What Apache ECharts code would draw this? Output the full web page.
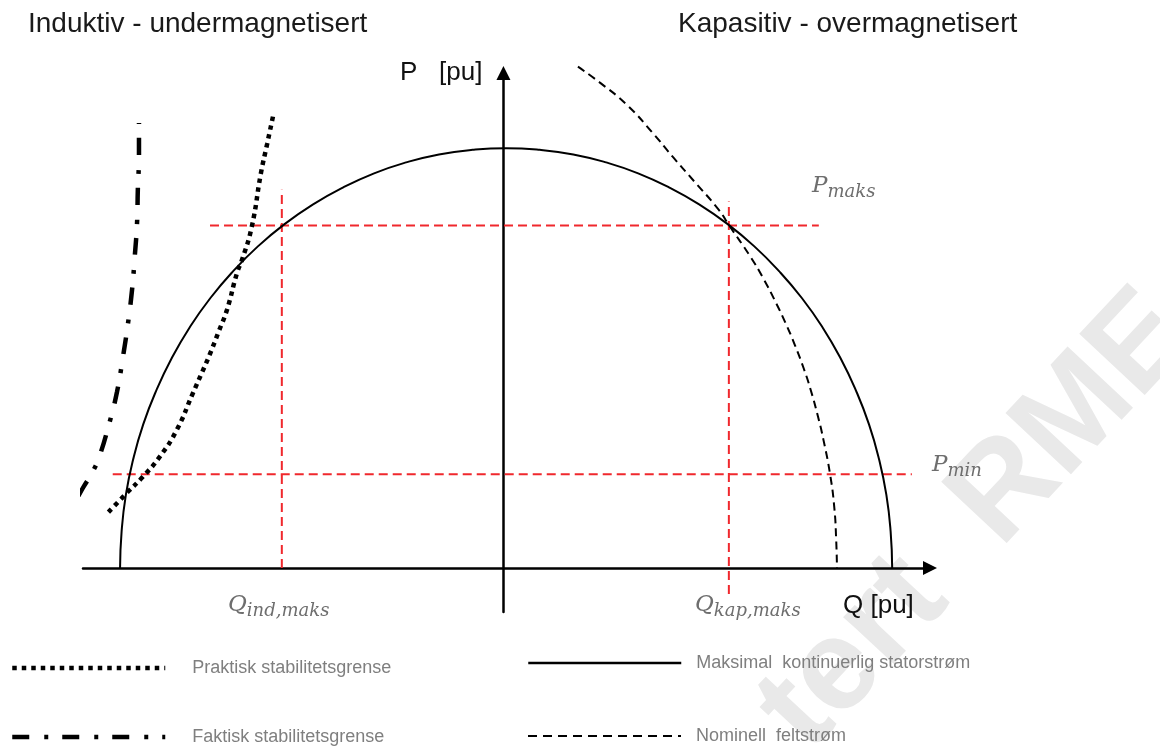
<!DOCTYPE html>
<html>
<head>
<meta charset="utf-8">
<title>Kapabilitetsdiagram</title>
<script src="https://cdn.jsdelivr.net/npm/echarts@6/dist/echarts.min.js"></script>
<style>
  html, body { margin: 0; padding: 0; background: #fff; }
  #chart { width: 1160px; height: 749px; }
</style>
</head>
<body>
<div id="chart"></div>
<script>
// Q (x) og P (y) i pu, lest av figuren
const statorQ = [-0.993, -0.989, -0.978, -0.959, -0.933, -0.899, -0.859, -0.812, -0.759, -0.700, -0.636, -0.567,
  -0.493, -0.416, -0.335, -0.252, -0.167, -0.080, 0.007, 0.094, 0.181, 0.266, 0.349, 0.430, 0.507, 0.581, 0.650,
  0.714, 0.773, 0.826, 0.873, 0.913, 0.947, 0.973, 0.992, 1.003, 1.007];
const statorP = [0, 0.087, 0.174, 0.259, 0.342, 0.423, 0.500, 0.574, 0.643, 0.707, 0.766, 0.819,
  0.866, 0.906, 0.940, 0.966, 0.985, 0.996, 1.000, 0.996, 0.985, 0.966, 0.940, 0.906, 0.866, 0.819, 0.766,
  0.707, 0.643, 0.574, 0.500, 0.423, 0.342, 0.259, 0.174, 0.087, 0];

const feltQ = [0.193, 0.250, 0.320, 0.387, 0.439, 0.495, 0.558, 0.584, 0.640, 0.673, 0.702, 0.730, 0.755, 0.778,
  0.796, 0.815, 0.829, 0.846, 0.857, 0.862, 0.864];
const feltP = [1.194, 1.156, 1.103, 1.036, 0.979, 0.920, 0.853, 0.817, 0.741, 0.690, 0.639, 0.585, 0.531, 0.475,
  0.424, 0.360, 0.305, 0.224, 0.145, 0.067, 0];

const praktiskQ = [-0.597, -0.612, -0.628, -0.652, -0.677, -0.690, -0.716, -0.738, -0.760, -0.782, -0.804, -0.846,
  -0.890, -0.934, -0.975, -1.025];
const praktiskP = [1.075, 1.010, 0.941, 0.812, 0.734, 0.703, 0.615, 0.562, 0.510, 0.463, 0.417, 0.329,
  0.265, 0.217, 0.179, 0.131];

const faktiskQ = [-0.944, -0.944, -0.947, -0.949, -0.955, -0.962, -0.973, -0.986, -1.001, -1.022, -1.048, -1.066, -1.089, -1.110];
const faktiskP = [1.060, 0.984, 0.901, 0.822, 0.741, 0.662, 0.579, 0.500, 0.419, 0.341, 0.262, 0.226, 0.191, 0.155];

// røde hjelpelinjer
const pMaks = 0.816;
const pMin = 0.223;
const qIndMaks = -0.574;
const qKapMaks = 0.584;
const pMaksSpan = [-0.760, 0.817];
const pMinSpan = [-1.012, 1.058];
const qIndSpan = [0, 0.901];
const qKapSpan = [-0.062, 0.873];

const pairs = (xs, ys) => xs.map((x, i) => [x, ys[i]]);

const names = {
  praktisk: 'Praktisk stabilitetsgrense',
  faktisk: 'Faktisk stabilitetsgrense',
  stator: 'Maksimal  kontinuerlig statorstrøm',
  felt: 'Nominell  feltstrøm'
};

const red = { color: '#f0282d', width: 2, type: [9, 5] };
const sans = 'Liberation Sans, Arial, sans-serif';
const mathRich = (sub) => ({
  text: `{m|${sub[0]}}{s|${sub[1]}}`,
  rich: {
    m: { fontFamily: 'DejaVu Serif', fontStyle: 'italic', fontSize: 23, lineHeight: 30, fill: '#6e6e6e', verticalAlign: 'middle' },
    s: { fontFamily: 'DejaVu Serif', fontStyle: 'italic', fontSize: 18, lineHeight: 15, fill: '#6e6e6e', verticalAlign: 'bottom' }
  }
});

const legendBase = (pad) => ({
  selectedMode: false,
  orient: 'horizontal',
  padding: 0,
  itemWidth: 153,
  itemHeight: 14,
  itemStyle: { opacity: 0 },
  textStyle: { fontFamily: sans, fontSize: 18, color: '#7f7f7f', padding: [0, 0, 0, pad] }
});

const chart = echarts.init(document.getElementById('chart'), null, { renderer: 'canvas' });
chart.setOption({
  animation: false,
  backgroundColor: '#fff',
  title: [
    { text: 'Induktiv - undermagnetisert', left: 28, top: 10, padding: 0,
      textStyle: { fontFamily: sans, fontSize: 28, fontWeight: 'normal', color: '#1a1a1a' } },
    { text: 'Kapasitiv - overmagnetisert', left: 678, top: 10, padding: 0,
      textStyle: { fontFamily: sans, fontSize: 28, fontWeight: 'normal', color: '#1a1a1a' } }
  ],
  legend: [
    { ...legendBase(22), left: 10, top: 659,
      data: [{ name: names.praktisk, lineStyle: { color: '#000', width: 4.5, type: [4.5, 5] } }] },
    { ...legendBase(22), left: 10, top: 728,
      data: [{ name: names.faktisk, lineStyle: { color: '#000', width: 4.5, type: [17, 15, 4, 14], dashOffset: 0 } }] },
    { ...legendBase(10), left: 527, top: 654,
      data: [{ name: names.stator, lineStyle: { color: '#000', width: 2.5, type: 'solid' } }] },
    { ...legendBase(10), left: 527, top: 727,
      data: [{ name: names.felt, lineStyle: { color: '#000', width: 2, type: [9, 6] } }] }
  ],
  grid: { left: 83, right: 230, top: 73, bottom: 137 },
  xAxis: {
    type: 'value',
    min: -1.089,
    max: 1.105,
    name: 'Q [pu]',
    nameLocation: 'end',
    nameGap: -87,
    nameTextStyle: { fontFamily: sans, fontSize: 26, color: '#111', align: 'left', verticalAlign: 'top', padding: [25, 0, 0, 0] },
    axisLine: { onZero: true, symbol: ['none', 'triangle'], symbolSize: [14, 14], lineStyle: { color: '#000', width: 2.5 } },
    axisTick: { show: false },
    axisLabel: { show: false },
    splitLine: { show: false }
  },
  yAxis: {
    type: 'value',
    min: -0.105,
    max: 1.179,
    name: 'P   [pu]',
    nameLocation: 'end',
    nameGap: 0,
    nameTextStyle: { fontFamily: sans, fontSize: 26, color: '#111', align: 'right', verticalAlign: 'middle', padding: [0, 21, 0, 0] },
    axisLine: { onZero: true, symbol: ['none', 'triangle'], symbolSize: [14, 14], lineStyle: { color: '#000', width: 2.5 } },
    axisTick: { show: false },
    axisLabel: { show: false },
    splitLine: { show: false }
  },
  series: [
    { name: 'Pmaks', type: 'line', data: pMaksSpan.map((q) => [q, pMaks]), symbol: 'none', lineStyle: red, z: 3, silent: true },
    { name: 'Pmin', type: 'line', data: pMinSpan.map((q) => [q, pMin]), symbol: 'none', lineStyle: red, z: 3, silent: true },
    { name: 'Qind', type: 'line', data: qIndSpan.map((p) => [qIndMaks, p]), symbol: 'none', lineStyle: red, z: 3, silent: true },
    { name: 'Qkap', type: 'line', data: qKapSpan.map((p) => [qKapMaks, p]), symbol: 'none', lineStyle: red, z: 3, silent: true },
    {
      name: names.stator, type: 'line', data: pairs(statorQ, statorP), smooth: true, symbol: 'none', z: 4,
      lineStyle: { color: '#000', width: 2 }, itemStyle: { color: '#000' }
    },
    {
      name: names.felt, type: 'line', data: pairs(feltQ, feltP), smooth: true, symbol: 'none', z: 4, clip: false,
      lineStyle: { color: '#000', width: 2, type: [8, 5] }, itemStyle: { color: '#000' }
    },
    {
      name: names.praktisk, type: 'line', data: pairs(praktiskQ, praktiskP), smooth: true, symbol: 'none', z: 4,
      lineStyle: { color: '#000', width: 4.5, type: [4.5, 4.5] }, itemStyle: { color: '#000' }
    },
    {
      name: names.faktisk, type: 'line', data: pairs(faktiskQ, faktiskP), smooth: true, symbol: 'none', z: 4, clip: false,
      lineStyle: { color: '#000', width: 4.5, type: [17, 15, 4, 14], dashOffset: 35 }, itemStyle: { color: '#000' }
    }
  ],
  graphic: [
    {
      type: 'text', x: 830, y: 775, rotation: 0.82, z: -10, silent: true,
      style: { text: 'tert  RME', font: 'bold 130px Liberation Sans', fill: '#e9e9e9', align: 'left', verticalAlign: 'bottom' }
    },
    { type: 'text', x: 228, y: 605, style: { ...mathRich(['Q', 'ind,maks']), align: 'left', verticalAlign: 'middle' } },
    { type: 'text', x: 695, y: 605, style: { ...mathRich(['Q', 'kap,maks']), align: 'left', verticalAlign: 'middle' } },
    { type: 'text', x: 812, y: 186, style: { ...mathRich(['P', 'maks']), align: 'left', verticalAlign: 'middle' } },
    { type: 'text', x: 932, y: 465, style: { ...mathRich(['P', 'min']), align: 'left', verticalAlign: 'middle' } }
  ]
});
</script>
</body>
</html>
